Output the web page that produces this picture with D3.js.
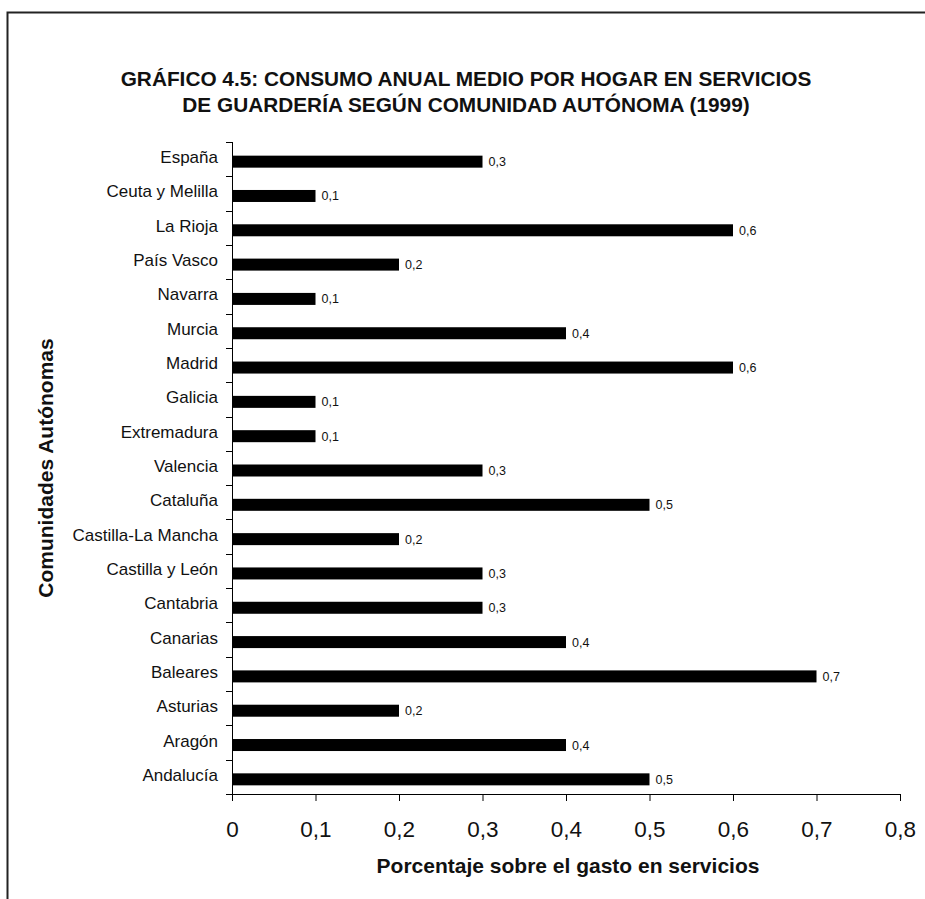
<!DOCTYPE html>
<html>
<head>
<meta charset="utf-8">
<script src="https://cdn.jsdelivr.net/npm/d3@7"></script>
<style>
  html, body { margin: 0; padding: 0; background: #fff; }
  svg { display: block; font-family: "Liberation Sans", Arial, sans-serif; }
</style>
</head>
<body>
<svg id="chart" width="925" height="899"></svg>
<script>
// Comunidades autónomas, de arriba abajo
const regions = [
  "España", "Ceuta y Melilla", "La Rioja", "País Vasco", "Navarra", "Murcia",
  "Madrid", "Galicia", "Extremadura", "Valencia", "Cataluña", "Castilla-La Mancha",
  "Castilla y León", "Cantabria", "Canarias", "Baleares", "Asturias", "Aragón", "Andalucía"
];
// Porcentaje sobre el gasto en servicios
const shares = [0.3, 0.1, 0.6, 0.2, 0.1, 0.4, 0.6, 0.1, 0.1, 0.3, 0.5, 0.2, 0.3, 0.3, 0.4, 0.7, 0.2, 0.4, 0.5];
const xTicks = [0, 0.1, 0.2, 0.3, 0.4, 0.5, 0.6, 0.7, 0.8];

const titleLines = [
  "GRÁFICO 4.5: CONSUMO ANUAL MEDIO POR HOGAR EN SERVICIOS",
  "DE GUARDERÍA SEGÚN COMUNIDAD AUTÓNOMA (1999)"
];
const xTitle = "Porcentaje sobre el gasto en servicios";
const yTitle = "Comunidades Autónomas";

const svg = d3.select("#chart");
const fmt = v => String(v).replace(".", ",");

// frame
svg.append("path")
  .attr("d", "M7.5,899 L7.5,12.5 L925,12.5")
  .attr("fill", "none").attr("stroke", "#222").attr("stroke-width", 2);

// title
svg.append("g").selectAll("text").data(titleLines).join("text")
  .attr("x", 466).attr("y", (d, i) => 86 + i * 26)
  .attr("text-anchor", "middle")
  .attr("font-weight", "bold").attr("font-size", 20.8)
  .attr("fill", "#111")
  .text(d => d);

const plotLeft = 232, plotRight = 900, plotTop = 142, plotBottom = 794;

const x = d3.scaleLinear().domain([0, 0.8]).range([plotLeft, plotRight]);
const y = d3.scaleBand().domain(regions).range([plotTop, plotBottom]).paddingInner(0).paddingOuter(0);

const data = regions.map((r, i) => ({ region: r, value: shares[i] }));
const mid = d => y(d) + y.bandwidth() / 2;

// bars
const barH = 12, barShift = 2.5;
svg.append("g").selectAll("rect").data(data).join("rect")
  .attr("x", x(0))
  .attr("y", d => mid(d.region) - barH / 2 + barShift)
  .attr("width", d => x(d.value) - x(0))
  .attr("height", barH)
  .attr("fill", "#000");

// value labels
svg.append("g").selectAll("text").data(data).join("text")
  .attr("x", d => x(d.value) + 6)
  .attr("y", d => mid(d.region) + barShift + 4.5)
  .attr("font-size", 12.5).attr("fill", "#111")
  .text(d => fmt(d.value));

// y axis: line plus ticks at category boundaries
const yAxis = svg.append("g");
yAxis.append("line")
  .attr("x1", plotLeft + 0.5).attr("x2", plotLeft + 0.5)
  .attr("y1", plotTop).attr("y2", plotBottom)
  .attr("stroke", "#000");
const bounds = regions.map(r => y(r)).concat([plotBottom]);
yAxis.selectAll("line.tick").data(bounds).join("line")
  .attr("class", "tick")
  .attr("x1", plotLeft - 6).attr("x2", plotLeft)
  .attr("y1", d => Math.round(d) + 0.5).attr("y2", d => Math.round(d) + 0.5)
  .attr("stroke", "#000");
yAxis.selectAll("text").data(regions).join("text")
  .attr("x", plotLeft - 14)
  .attr("y", d => mid(d) + 4)
  .attr("text-anchor", "end")
  .attr("font-size", 17).attr("fill", "#111")
  .text(d => d);

// x axis
const xAxis = svg.append("g").attr("transform", `translate(0,${plotBottom})`)
  .call(d3.axisBottom(x).tickValues(xTicks).tickFormat(fmt).tickSize(7).tickSizeOuter(0));
xAxis.select(".domain").attr("stroke", "#000");
xAxis.selectAll(".tick line").attr("stroke", "#000");
xAxis.selectAll(".tick text")
  .attr("font-family", "Liberation Sans, Arial, sans-serif")
  .attr("font-size", 22.5).attr("fill", "#111")
  .attr("y", 43).attr("dy", 0);

// axis titles
svg.append("text")
  .attr("x", 568).attr("y", 873)
  .attr("text-anchor", "middle")
  .attr("font-weight", "bold").attr("font-size", 21).attr("fill", "#111")
  .text(xTitle);
svg.append("text")
  .attr("transform", "translate(53,468) rotate(-90)")
  .attr("text-anchor", "middle")
  .attr("font-weight", "bold").attr("font-size", 21).attr("fill", "#111")
  .text(yTitle);
</script>
</body>
</html>
